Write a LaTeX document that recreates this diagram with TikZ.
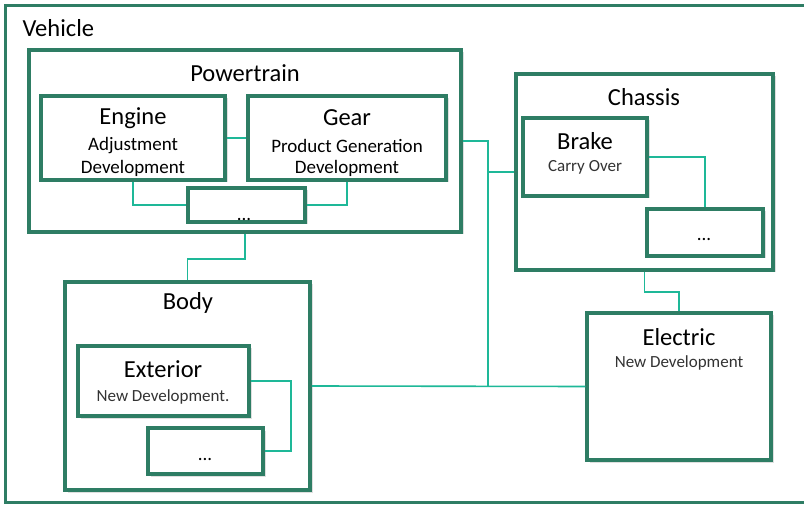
\documentclass[tikz,border=0pt]{standalone}
\usepackage{fontspec}
\setmainfont{Carlito}
\usetikzlibrary{positioning}
\usetikzlibrary{shadows}
\definecolor{boxgreen}{RGB}{46,125,100}
\definecolor{linkteal}{RGB}{30,184,152}
\tikzset{frame/.style = {draw=boxgreen, line width=3pt, inner sep=0}}
\tikzset{box/.style = {draw=boxgreen, line width=3.5pt, fill=white, inner sep=0,
                       drop shadow={shadow xshift=2.5pt, shadow yshift=-2.5pt, opacity=0.25}}}
\tikzset{link/.style = {draw=linkteal, line width=1.6pt}}
\tikzset{head/.style = {font=\fontsize{24.5}{29}\selectfont}}
\tikzset{sub/.style = {font=\fontsize{19}{23}\selectfont}}
\tikzset{note/.style = {font=\fontsize{17}{21}\selectfont, text=black!80}}

\begin{document}
\begin{tikzpicture}[x=1pt, y=-1pt]
    \clip (0, 0) rectangle (804, 505);
    \useasboundingbox (0, 0) rectangle (804, 505);

    % outer frame
    \node [frame, minimum width=810, minimum height=496] (vehicle) at (410, 254) {};
    \node [head, anchor=west] (vehiclet) at (19, 28) {Vehicle};

    % powertrain
    \node [box, minimum width=432, minimum height=182] (power) at (245, 141) {};
    \node [head] (powert) at (245, 73) {Powertrain};
    \node [box, minimum width=184, minimum height=84] (engine) at (133, 138) {};
    \node [head] at (133, 118) {Engine};
    \node [sub] at (133, 146) {Adjustment};
    \node [sub] at (133, 168) {Development};
    \node [box, minimum width=198, minimum height=84] (gear) at (347, 138) {};
    \node [head] at (347, 118) {Gear};
    \node [sub] at (347, 146) {Product Generation};
    \node [sub] at (347, 168) {Development};
    \node [box, minimum width=117, minimum height=34] (ptdots) at (246.5, 205) {};
    \node [sub] at (244, 219) {...};

    % chassis
    \node [box, minimum width=257, minimum height=196] (chassis) at (644.5, 172) {};
    \node [head] at (644, 97) {Chassis};
    \node [box, minimum width=124, minimum height=78] (brake) at (585, 157) {};
    \node [head] at (585, 141) {Brake};
    \node [note] at (585, 167) {Carry Over};
    \node [box, minimum width=116, minimum height=47] (chdots) at (705, 232.5) {};
    \node [sub] at (704, 239) {...};

    % body
    \node [box, minimum width=245, minimum height=208] (body) at (187.5, 386) {};
    \node [head] at (188, 303) {Body};
    \node [box, minimum width=171, minimum height=70] (exterior) at (163.5, 381) {};
    \node [head] at (163, 369) {Exterior};
    \node [note] at (163, 397) {New Development.};
    \node [box, minimum width=115, minimum height=46] (bodots) at (205.5, 451) {};
    \node [sub] at (205, 459) {...};

    % electric
    \node [box, minimum width=184, minimum height=147] (electric) at (679, 386.5) {};
    \node [head] at (679, 337) {Electric};
    \node [note] at (679, 363) {New Development};

    % links
    \coordinate (bus) at (488, 386);
    \draw [link] (engine.east) -- (gear.west);
    \draw [link] (engine.south) |- (ptdots.west);
    \draw [link] (gear.south) |- (ptdots.east);
    \draw [link] (power.south) -- ++(0, 25) -| (body.north);
    \draw [link] (power.east) -| (bus);
    \draw [link] (chassis.west) -- (chassis.west -| bus);
    \draw [link] (body.east) -- (electric.west);
    \draw [link] (brake.east) -| (chdots.north);
    \draw [link] (chassis.south) -- ++(0, 20) -| (electric.north);
    \draw [link] (exterior.east) -- ++(40, 0) |- (bodots.east);
  \end{tikzpicture}
\end{document}
